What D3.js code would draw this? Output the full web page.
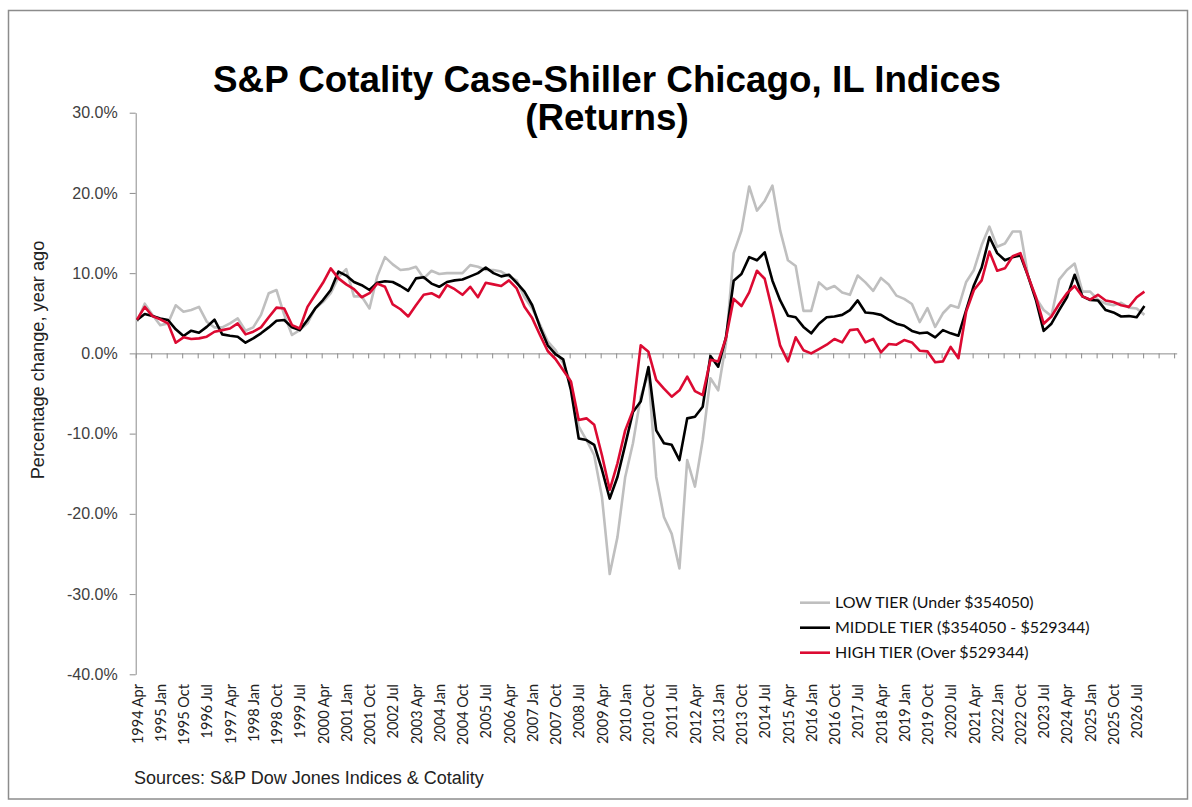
<!DOCTYPE html>
<html>
<head>
<meta charset="utf-8">
<script src="https://cdn.jsdelivr.net/npm/d3@7"></script>
<style>
  body { margin: 0; background: #fff; }
  svg { display: block; }
</style>
</head>
<body>
<script>
 // year-ago returns, one value every 3 months starting 1994 Apr
 const lowTier = [
   3.95, 6.2, 4.8, 3.5, 3.74, 6.0, 5.2, 5.4, 5.8, 3.95,
   3.24, 3.24, 3.74, 4.36, 2.83, 3.24, 4.8, 7.5, 7.9, 4.8,
   2.29, 2.9, 3.74, 5.6, 6.4, 7.5, 9.5, 10.5, 7.1, 7.1,
   5.6, 9.6, 12.0, 11.1, 10.4, 10.5, 10.8, 9.35, 10.3, 9.9,
   10.0, 10.0, 10.0, 11.0, 10.8, 10.4, 10.4, 10.2, 9.6, 9.1,
   7.0, 5.6, 3.6, 1.5, 0.4, -1.25, -3.7, -9.1, -10.8, -12.7,
   -17.9, -27.5, -22.9, -15.4, -11.2, -5.4, -2.5, -15.4, -20.4, -22.5,
   -26.8, -13.3, -16.6, -10.8, -3.1, -4.6, 1.25, 12.5, 15.3, 20.8,
   17.8, 19.0, 20.9, 15.3, 11.6, 10.9, 5.3, 5.3, 8.85, 8.0,
   8.4, 7.6, 7.3, 9.7, 8.85, 7.8, 9.4, 8.6, 7.2, 6.8,
   6.15, 3.9, 5.65, 3.3, 5.0, 6.0, 5.7, 8.9, 10.4, 13.5,
   15.8, 13.3, 13.7, 15.2, 15.2, 9.6, 6.9, 5.4, 4.65, 9.2,
   10.4, 11.2, 7.7, 7.7, 6.7, 6.2, 6.0, 6.3, 5.7, 5.6,
   4.8
 ];
 const middleTier = [
   4.16, 4.9, 4.65, 4.36, 4.16, 3.0, 2.16, 2.83, 2.58, 3.3,
   4.2, 2.37, 2.2, 2.08, 1.33, 1.87, 2.5, 3.24, 4.07, 4.16,
   3.24, 2.9, 4.16, 5.6, 6.65, 7.9, 10.2, 9.7, 8.9, 8.5,
   7.9, 8.8, 9.0, 8.9, 8.4, 7.8, 9.35, 9.5, 8.7, 8.3,
   8.9, 9.1, 9.2, 9.6, 10.0, 10.7, 10.0, 9.6, 9.8, 8.8,
   7.7, 6.0, 3.3, 1.0, -0.1, -0.75, -4.6, -10.6, -10.8, -11.4,
   -14.5, -18.1, -15.4, -11.4, -7.3, -6.0, -1.7, -9.6, -11.2, -11.4,
   -13.3, -8.1, -7.9, -6.65, -0.33, -1.66, 2.0, 9.06, 9.9, 12.0,
   11.6, 12.6, 9.06, 6.6, 4.7, 4.5, 3.3, 2.5, 3.7, 4.5,
   4.6, 4.8, 5.4, 6.6, 5.1, 5.0, 4.8, 4.2, 3.7, 3.45,
   2.8, 2.5, 2.6, 2.0, 2.9, 2.5, 2.2, 5.4, 8.5, 10.7,
   14.5, 12.5, 11.6, 12.0, 12.2, 9.6, 6.65, 2.8, 3.7, 5.4,
   7.0, 9.8, 7.1, 6.65, 6.6, 5.4, 5.1, 4.6, 4.65, 4.5,
   5.9
 ];
 const highTier = [
   4.2, 5.8, 4.65, 4.24, 3.74, 1.33, 2.0, 1.79, 1.87, 2.08,
   2.7, 2.9, 3.1, 3.74, 2.37, 2.7, 3.24, 4.5, 5.7, 5.6,
   3.53, 3.1, 5.8, 7.3, 8.8, 10.6, 9.35, 8.6, 8.0, 7.0,
   7.5, 8.7, 8.3, 6.1, 5.5, 4.6, 6.0, 7.3, 7.5, 7.0,
   8.5, 8.0, 7.3, 8.3, 7.0, 8.8, 8.6, 8.4, 9.1, 8.1,
   5.8, 4.4, 2.3, 0.3, -0.7, -2.1, -3.5, -8.3, -8.1, -8.9,
   -12.7, -17.0, -13.7, -9.6, -7.1, 1.0, 0.2, -3.3, -4.4, -5.4,
   -4.6, -2.9, -4.7, -5.2, -0.8, -1.0, 1.9, 6.8, 5.9, 7.6,
   10.3, 9.3, 5.3, 0.96, -1.0, 2.0, 0.4, 0.0, 0.54, 1.08,
   1.8, 1.37, 2.9, 3.0, 1.37, 1.8, 0.12, 1.16, 1.08, 1.66,
   1.37, 0.33, 0.25, -1.1, -1.0, 0.8, -0.6, 5.2, 7.9, 9.1,
   12.7, 10.3, 10.6, 12.1, 12.5, 9.6, 7.0, 3.7, 4.6, 6.15,
   7.5, 8.4, 7.1, 6.7, 7.3, 6.6, 6.4, 6.0, 5.8, 7.0,
   7.7
 ];

 const seriesNames = ['LOW TIER (Under $354050)', 'MIDDLE TIER ($354050 - $529344)', 'HIGH TIER (Over $529344)'];
 const seriesColors = ['#bfbfbf', '#000000', '#dc0a32'];

 // category labels, one every 9 months
 const xLabels = [
   '1994 Apr', '1995 Jan', '1995 Oct', '1996 Jul', '1997 Apr', '1998 Jan', '1998 Oct', '1999 Jul',
   '2000 Apr', '2001 Jan', '2001 Oct', '2002 Jul', '2003 Apr', '2004 Jan', '2004 Oct', '2005 Jul',
   '2006 Apr', '2007 Jan', '2007 Oct', '2008 Jul', '2009 Apr', '2010 Jan', '2010 Oct', '2011 Jul',
   '2012 Apr', '2013 Jan', '2013 Oct', '2014 Jul', '2015 Apr', '2016 Jan', '2016 Oct', '2017 Jul',
   '2018 Apr', '2019 Jan', '2019 Oct', '2020 Jul', '2021 Apr', '2022 Jan', '2022 Oct', '2023 Jul',
   '2024 Apr', '2025 Jan', '2025 Oct', '2026 Jul'
 ];
 const yTicks = [-40, -30, -20, -10, 0, 10, 20, 30];

 // constants
 const width = 1192;
 const height = 807;
 const nMonths = 403;
 const step = 3;      // months between stored values
 const labelEvery = 9;
 const tickEvery = 6;
 const axisColor = '#8c8c8c';

 const svg = d3.select('body').append('svg')
       .attr('width', width).attr('height', height);

 // outer frame
 svg.append('rect').attr('x', 8.5).attr('y', 10.5).attr('width', 1179).attr('height', 788.5)
    .attr('fill', '#fff').attr('stroke', axisColor).attr('stroke-width', 1.5);

 // scales
 const xScale = d3.scaleLinear().domain([0, nMonths]).range([135.7, 1176.7]);
 const yScale = d3.scaleLinear().domain([-40, 30]).range([674.3, 112.7]);

 // title
 svg.append('text').attr('x', 607).attr('y', 92).attr('text-anchor', 'middle')
    .style('font', 'bold 36.8px "Liberation Sans", Arial, sans-serif').text('S&P Cotality Case-Shiller Chicago, IL Indices');
 svg.append('text').attr('x', 607).attr('y', 130).attr('text-anchor', 'middle')
    .style('font', 'bold 36.8px "Liberation Sans", Arial, sans-serif').text('(Returns)');

 // y axis
 const yAxis = svg.append('g').attr('class', 'yAxis')
     .attr('transform', `translate(${xScale(0)},0)`)
     .call(d3.axisLeft(yScale).tickValues(yTicks).tickSize(6).tickSizeOuter(0).tickPadding(12)
             .tickFormat((d)=>d.toFixed(1) + '%'));
 yAxis.selectAll('path, line').attr('stroke', axisColor);
 yAxis.selectAll('text').style('font', '16px "Liberation Sans", Arial, sans-serif').attr('fill', '#404040');

 // y axis title
 svg.append('text').attr('transform', 'translate(44,360) rotate(-90)').attr('text-anchor', 'middle')
    .style('font', '18.2px "Liberation Sans", Arial, sans-serif').attr('fill', '#222')
    .text('Percentage change, year ago');

 // x axis line at zero with tick marks between categories
 const xAxis = svg.append('g').attr('class', 'xAxis')
     .attr('transform', `translate(0,${yScale(0)})`)
     .call(d3.axisBottom(xScale).tickValues(d3.range(0, nMonths, tickEvery)).tickSize(5).tickSizeOuter(0).tickFormat(''));
 xAxis.selectAll('path, line').attr('stroke', axisColor);

 // category labels below the plot area
 const xLabelAxis = svg.append('g').attr('class', 'xLabels')
     .attr('transform', `translate(0,684)`)
     .call(d3.axisBottom(xScale).tickValues(xLabels.map((d,i)=>i*labelEvery + 0.5)).tickSize(0)
             .tickFormat((d,i)=>xLabels[i]));
 xLabelAxis.select('.domain').remove();
 xLabelAxis.selectAll('text')
     .attr('x', 0).attr('y', 0).attr('dy', '0.35em')
     .attr('transform', 'rotate(-90)').style('text-anchor', 'end')
     .style('font', '14.5px Lato, "Open Sans", sans-serif').attr('fill', '#222');

 // lines
 const line = d3.line().x((d,i)=>xScale(i*step + 0.5)).y((d)=>yScale(d));
 const allSeries = [lowTier, middleTier, highTier];
 svg.append('g').selectAll('path').data(allSeries).enter().append('path')
    .attr('d', line).attr('fill', 'none')
    .attr('stroke', (d,i)=>seriesColors[i]).attr('stroke-width', 2.6)
    .attr('stroke-linejoin', 'round');

 // legend
 const legend = svg.append('g').selectAll('g').data(seriesNames).enter().append('g')
     .attr('transform', (d,i)=>`translate(800,${602.7 + i*25})`);
 legend.append('line').attr('x1', 0).attr('x2', 30).attr('y1', 0).attr('y2', 0)
     .attr('stroke', (d,i)=>seriesColors[i]).attr('stroke-width', 2.6);
 legend.append('text').attr('x', 35).attr('dy', '0.35em')
     .style('font', '16px Lato, "Open Sans", sans-serif').attr('fill', '#111').text((d)=>d);

 // source note
 svg.append('text').attr('x', 134).attr('y', 784)
    .style('font', '18px "Liberation Sans", Arial, sans-serif').attr('fill', '#222')
    .text('Sources: S&P Dow Jones Indices & Cotality');
</script>
</body>
</html>
